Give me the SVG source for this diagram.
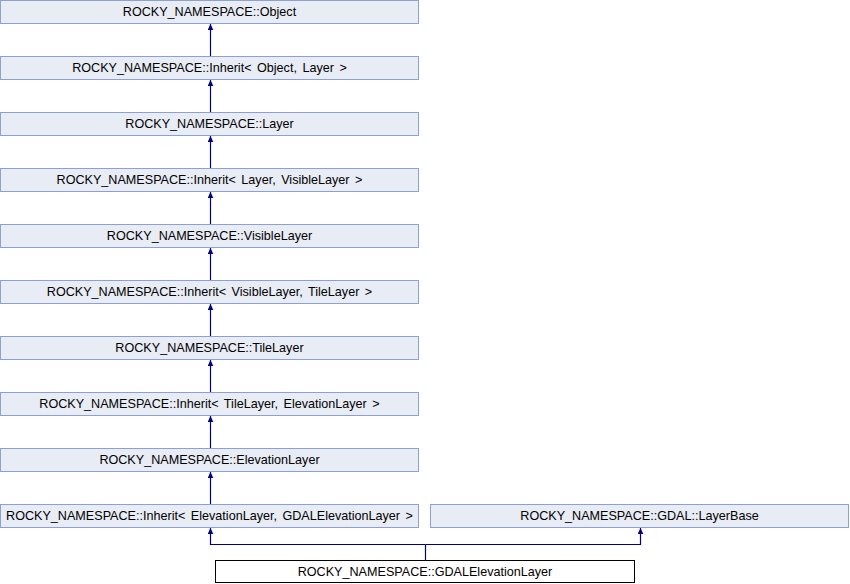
<svg xmlns="http://www.w3.org/2000/svg" width="850" height="584" viewBox="0 0 850 584">
<defs>
<style>
.n rect{fill:#E8ECF5;stroke:#8DA0CF;stroke-width:1}
.m rect{fill:#FFFFFF;stroke:#000000;stroke-width:1}
text{font-family:"Liberation Sans",Arial,sans-serif;font-size:12.6px;word-spacing:2px;fill:#000;text-anchor:middle}
.e{stroke:#000080;stroke-width:1.2;fill:none}
</style>
<marker id="a" markerWidth="8" markerHeight="8" refX="6" refY="3" orient="auto" markerUnits="userSpaceOnUse"><path d="M0,0.2 L6,3 L0,5.8 Z" fill="#000080"/></marker>
</defs>
<rect width="850" height="584" fill="#fff"/>
<g id="connectors">
<path class="e" d="M210.5,56.5 V24" marker-end="url(#a)"/>
<path class="e" d="M210.5,112.5 V80" marker-end="url(#a)"/>
<path class="e" d="M210.5,168.5 V136" marker-end="url(#a)"/>
<path class="e" d="M210.5,224.5 V192" marker-end="url(#a)"/>
<path class="e" d="M210.5,280.5 V248" marker-end="url(#a)"/>
<path class="e" d="M210.5,336.5 V304" marker-end="url(#a)"/>
<path class="e" d="M210.5,392.5 V360" marker-end="url(#a)"/>
<path class="e" d="M210.5,448.5 V416" marker-end="url(#a)"/>
<path class="e" d="M210.5,504.5 V472" marker-end="url(#a)"/>
<path class="e" d="M425.5,560.5 V544.5"/>
<path class="e" d="M425.5,544.5 H210.5 V528" marker-end="url(#a)"/>
<path class="e" d="M425.5,544.5 H640.5 V528" marker-end="url(#a)"/>
</g>
<g id="n1" class="n"><rect x="0.5" y="0.5" width="418" height="23"/><text x="209.5" y="16">ROCKY_NAMESPACE::Object</text></g>
<g id="n2" class="n"><rect x="0.5" y="56.5" width="418" height="23"/><text x="209.5" y="72">ROCKY_NAMESPACE::Inherit&lt; Object, Layer &gt;</text></g>
<g id="n3" class="n"><rect x="0.5" y="112.5" width="418" height="23"/><text x="209.5" y="128">ROCKY_NAMESPACE::Layer</text></g>
<g id="n4" class="n"><rect x="0.5" y="168.5" width="418" height="23"/><text x="209.5" y="184">ROCKY_NAMESPACE::Inherit&lt; Layer, VisibleLayer &gt;</text></g>
<g id="n5" class="n"><rect x="0.5" y="224.5" width="418" height="23"/><text x="209.5" y="240">ROCKY_NAMESPACE::VisibleLayer</text></g>
<g id="n6" class="n"><rect x="0.5" y="280.5" width="418" height="23"/><text x="209.5" y="296">ROCKY_NAMESPACE::Inherit&lt; VisibleLayer, TileLayer &gt;</text></g>
<g id="n7" class="n"><rect x="0.5" y="336.5" width="418" height="23"/><text x="209.5" y="352">ROCKY_NAMESPACE::TileLayer</text></g>
<g id="n8" class="n"><rect x="0.5" y="392.5" width="418" height="23"/><text x="209.5" y="408">ROCKY_NAMESPACE::Inherit&lt; TileLayer, ElevationLayer &gt;</text></g>
<g id="n9" class="n"><rect x="0.5" y="448.5" width="418" height="23"/><text x="209.5" y="464">ROCKY_NAMESPACE::ElevationLayer</text></g>
<g id="n10" class="n"><rect x="0.5" y="504.5" width="418" height="23"/><text x="209.5" y="520">ROCKY_NAMESPACE::Inherit&lt; ElevationLayer, GDALElevationLayer &gt;</text></g>
<g id="n11" class="n"><rect x="430.5" y="504.5" width="418" height="23"/><text x="639.5" y="520">ROCKY_NAMESPACE::GDAL::LayerBase</text></g>
<g id="n12" class="m"><rect x="215.5" y="560.5" width="419" height="22"/><text x="425" y="576">ROCKY_NAMESPACE::GDALElevationLayer</text></g>
</svg>
